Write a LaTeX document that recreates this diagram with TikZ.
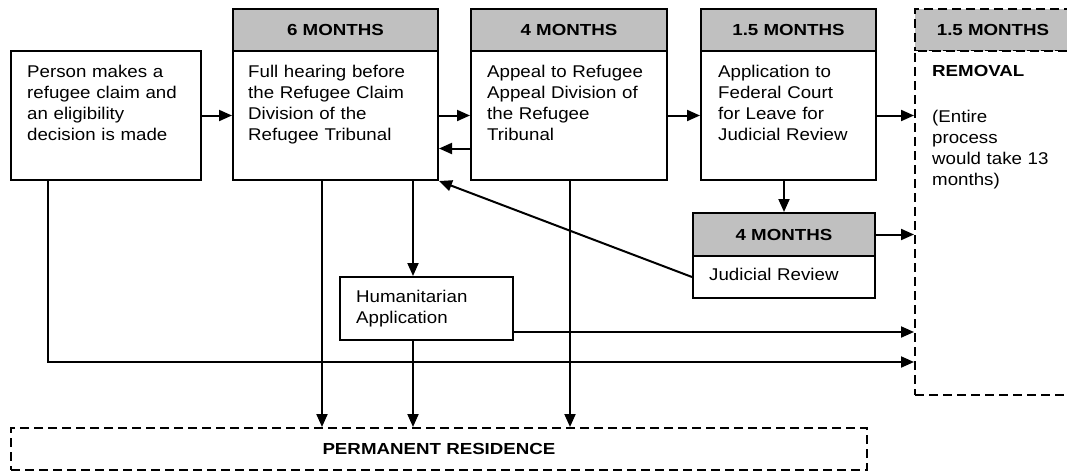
\documentclass[tikz,border=0pt]{standalone}
\usepackage{fontspec}
\setmainfont{Liberation Sans}
\newfontfamily\bodyfont{Liberation Sans}[FakeStretch=1.1]
\newfontfamily\headfont{Liberation Sans}[FakeStretch=1.17]
\usetikzlibrary{arrows.meta}
\definecolor{hdrgrey}{RGB}{192,192,192}
\tikzset{
  x=1pt, y=1pt,
  boxline/.style={draw, line width=2pt, inner sep=0pt, anchor=north west},
  hdrbox/.style={boxline, fill=hdrgrey, font=\headfont\fontsize{16}{19}\selectfont\bfseries},
  bodybox/.style={boxline, fill=white},
  dashbox/.style={dash pattern=on 9pt off 5pt},
  txt/.style={inner sep=0pt, anchor=base west, align=left, text width=175pt, font=\bodyfont\fontsize{17}{21}\selectfont},
  btxt/.style={inner sep=0pt, anchor=base west, font=\headfont\fontsize{16}{19}\selectfont\bfseries},
  arr/.style={line width=2pt, -{Triangle[length=13pt,width=11pt]}},
}
\begin{document}
\begin{tikzpicture}
\useasboundingbox (0,0) rectangle (1067,-472);
\clip (0,0) rectangle (1067,-472);
\fill[white] (0,0) rectangle (1067,-472);

% boxes
\node[bodybox, minimum width=190pt, minimum height=129pt] (bA) at (10,-50) {};
\node[hdrbox, minimum width=205pt, minimum height=42pt] (hB) at (232,-8) {6 MONTHS};
\node[bodybox, minimum width=205pt, minimum height=129pt] (bB) at (232,-50) {};
\node[hdrbox, minimum width=196pt, minimum height=42pt] (hC) at (470,-8) {4 MONTHS};
\node[bodybox, minimum width=196pt, minimum height=129pt] (bC) at (470,-50) {};
\node[hdrbox, minimum width=175pt, minimum height=42pt] (hD) at (700,-8) {1.5 MONTHS};
\node[bodybox, minimum width=175pt, minimum height=129pt] (bD) at (700,-50) {};
\node[hdrbox, dashbox, minimum width=156pt, minimum height=42pt] (hE) at (914,-8) {1.5 MONTHS};
\node[bodybox, dashbox, minimum width=156pt, minimum height=344pt] (bE) at (914,-50) {};
\node[hdrbox, minimum width=182pt, minimum height=43pt] (hF) at (692,-212) {4 MONTHS};
\node[bodybox, minimum width=182pt, minimum height=42pt] (bF) at (692,-255) {};
\node[bodybox, minimum width=173pt, minimum height=63pt] (bG) at (339,-276) {};
\node[bodybox, dashbox, minimum width=856pt, minimum height=42pt, font=\headfont\fontsize{16}{19}\selectfont\bfseries] (bH) at (10,-427) {PERMANENT RESIDENCE};

% texts
\node[txt] (tA) at (27,-77) {Person makes a\\refugee claim and\\an eligibility\\decision is made};
\node[txt] (tB) at (248,-77) {Full hearing before\\the Refugee Claim\\Division of the\\Refugee Tribunal};
\node[txt] (tC) at (487,-77) {Appeal to Refugee\\Appeal Division of\\the Refugee\\Tribunal};
\node[txt] (tD) at (718,-77) {Application to\\Federal Court\\for Leave for\\Judicial Review};
\node[btxt] (tE1) at (932,-76) {REMOVAL};
\node[txt, text width=130pt] (tE2) at (932,-122) {(Entire\\process\\would take 13\\months)};
\node[txt] (tF) at (709,-280) {Judicial Review};
\node[txt] (tG) at (356,-302) {Humanitarian\\Application};

% coordinates for vertical lines
\coordinate (xa) at (48,0);
\coordinate (xb) at (322,0);
\coordinate (xg) at (413,0);
\coordinate (xc) at (570,0);
\coordinate (yae) at (0,-362);

% main flow
\draw[arr] (bA.east) -- (bB.west);
\draw[arr] (bB.east) -- (bC.west);
\draw[arr] ([yshift=-33pt]bC.west) -- ([yshift=-33pt]bB.east);
\draw[arr] (bC.east) -- (bD.west);
\draw[arr] (bD.east) -- (bD.east -| bE.west);
\draw[arr] (bD.south -| hF.north) -- (hF.north);
\draw[arr] (hF.east) -- (hF.east -| bE.west);
\draw[arr] (bF.west) -- (bB.south east);
\draw[arr] (xg |- bB.south) -- (xg |- bG.north);
\draw[arr] ([yshift=9pt]bG.south east) -- ([yshift=9pt]bG.south east -| bE.west);
\draw[arr] (xa |- bA.south) -- (xa |- yae) -- (yae -| bE.west);
\draw[arr] (xb |- bB.south) -- (xb |- bH.north);
\draw[arr] (xg |- bG.south) -- (xg |- bH.north);
\draw[arr] (xc |- bC.south) -- (xc |- bH.north);
\end{tikzpicture}
\end{document}
